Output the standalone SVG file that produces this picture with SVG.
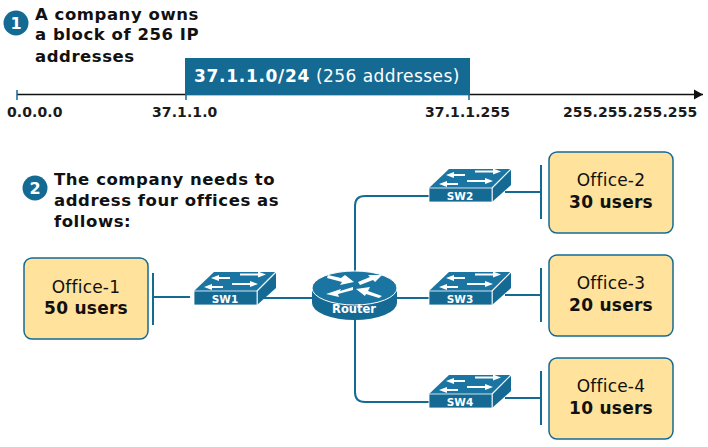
<svg xmlns="http://www.w3.org/2000/svg" width="708" height="447" viewBox="0 0 708 447">
<style>
.t{font-family:"DejaVu Sans","Liberation Sans",sans-serif}
.h{font-size:16.500px;font-weight:700;fill:#111;letter-spacing:.55px}
.a{font-size:14px;font-weight:700;fill:#1a1a1a;letter-spacing:.1px}
.off{fill:#ffe29b;stroke:#156a94;stroke-width:1.5}
.n{font-size:17px;fill:#111;text-anchor:middle;letter-spacing:.2px}
.u{font-size:17px;font-weight:700;fill:#111;text-anchor:middle;letter-spacing:.25px}
.c{fill:none;stroke:#156a94;stroke-width:2}
.w{fill:#fff;font-weight:700;text-anchor:middle}
.ar{stroke:#fff;stroke-width:2;fill:none}
</style>
<defs>
<marker id="ah" markerWidth="10" markerHeight="12" refX="9" refY="6" orient="auto" markerUnits="userSpaceOnUse"><path d="M0 1L9 6L0 11Z" fill="#111"/></marker>
<g id="sw">
<path d="M0 0L20-19H82L63 0Z" fill="#1a75a3"/>
<path d="M63 0L82-19V-3L63 14Z" fill="#156a94"/>
<path d="M63 0L82-19M63 0V14" stroke="#fff" stroke-width="1.200" fill="none"/>
<rect x="0" y="0" width="63" height="14" fill="#156a94" stroke="#fff" stroke-width=".8"/>
<path class="ar" d="M46-16.500H66M38-7H58"/>
<path class="ar" d="M23-13H36M16-4H29"/>
<path fill="#fff" d="M64-19.500L72-16.500L64-13.500ZM56-10L64-7L56-4ZM25-16L17-13L25-10ZM18-7L10-4L18-1Z"/>
</g>
</defs>
<g id="axis">
<line x1="17" y1="94.500" x2="703" y2="94.500" stroke="#111" stroke-width="1.500" marker-end="url(#ah)"/>
<path d="M17 90V100M186 94V100M469 94V100" stroke="#156a94" stroke-width="1.500"/>
</g>
<g id="block">
<rect x="185" y="58" width="285" height="37" fill="#156a94"/>
<text class="t" x="194" y="82" font-size="17" fill="#fff" letter-spacing=".45"><tspan font-weight="700" letter-spacing=".7">37.1.1.0/24</tspan> (256 addresses)</text>
</g>
<g id="axis-labels" class="t a">
<text x="7" y="117">0.0.0.0</text>
<text x="152" y="117">37.1.1.0</text>
<text x="425" y="117">37.1.1.255</text>
<text x="563" y="117">255.255.255.255</text>
</g>
<g id="step1">
<circle cx="16" cy="23" r="12.500" fill="#156a94"/>
<text class="t w" x="16" y="29" font-size="16">1</text>
<text class="t h" x="35" y="20">A company owns</text>
<text class="t h" x="35" y="40">a block of 256 IP</text>
<text class="t h" x="35" y="62">addresses</text>
</g>
<g id="step2">
<circle cx="35" cy="188" r="12.500" fill="#156a94"/>
<text class="t w" x="35" y="194" font-size="16">2</text>
<text class="t h" x="54" y="185">The company needs to</text>
<text class="t h" x="54" y="206">address four offices as</text>
<text class="t h" x="54" y="227">follows:</text>
</g>
<g id="connectors" class="c">
<path d="M153 273V325M153 297H190"/>
<path d="M262 298H312"/>
<path d="M397 298H429"/>
<path d="M355 272V206Q355 196 365 196H429"/>
<path d="M355 320V392Q355 402 365 402H429"/>
<path d="M505 192H541M541 165V219"/>
<path d="M505 295H541M541 268V322"/>
<path d="M505 398H541M541 371V425"/>
</g>
<g id="office1"><rect class="off" x="24" y="258" width="124" height="81" rx="8"/><text class="t n" x="86" y="293">Office-1</text><text class="t u" x="86" y="314">50 users</text></g>
<g id="office2"><rect class="off" x="549" y="152" width="124" height="81" rx="8"/><text class="t n" x="611" y="186">Office-2</text><text class="t u" x="611" y="208">30 users</text></g>
<g id="office3"><rect class="off" x="549" y="255" width="124" height="81" rx="8"/><text class="t n" x="611" y="289">Office-3</text><text class="t u" x="611" y="311">20 users</text></g>
<g id="office4"><rect class="off" x="549" y="358" width="124" height="81" rx="8"/><text class="t n" x="611" y="392">Office-4</text><text class="t u" x="611" y="414">10 users</text></g>
<g id="sw1"><use href="#sw" x="194" y="291"/><text class="t w" x="225" y="303" font-size="10.500">SW1</text></g>
<g id="sw2"><use href="#sw" x="429" y="188"/><text class="t w" x="460" y="200" font-size="10.500">SW2</text></g>
<g id="sw3"><use href="#sw" x="429" y="291"/><text class="t w" x="460" y="303" font-size="10.500">SW3</text></g>
<g id="sw4"><use href="#sw" x="429" y="394"/><text class="t w" x="460" y="406" font-size="10.500">SW4</text></g>
<g id="router">
<path d="M312 288V303A42.500 17 0 0 0 397 303V288Z" fill="#156a94"/>
<ellipse cx="354.500" cy="288" rx="42.500" ry="17" fill="#1a75a3" stroke="#fff" stroke-width="1"/>
<g fill="#fff">
<path d="M328 275L341 278L345 275L354 282L340 285L342 282L327 278Z"/>
<path d="M358 282L370 277L368 275L382 275L375 282L373 280L360 285Z"/>
<path d="M353 287L340 291L341 289L326 294L339 297L338 294L353 290Z"/>
<path d="M382 296L368 291L370 287L356 289L365 296L366 294L379 298Z"/>
</g>
<text class="t w" x="354" y="313" font-size="11.500">Router</text>
</g>
</svg>
